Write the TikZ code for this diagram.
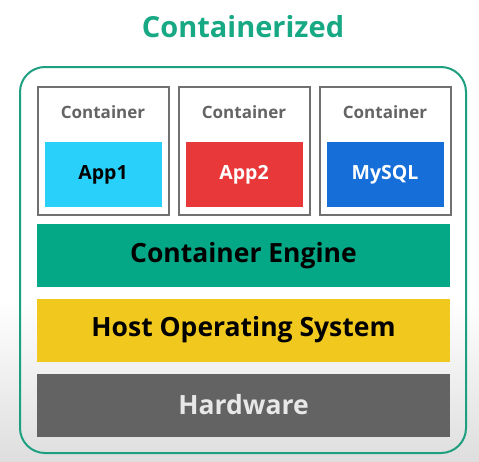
\documentclass[tikz,border=0pt]{standalone}
\usepackage{fontspec}
\setmainfont{Open Sans}
\usepackage{tikz}
\usetikzlibrary{positioning}

\definecolor{titlegreen}{RGB}{23,168,132}
\definecolor{framegreen}{RGB}{30,160,128}
\definecolor{enginegreen}{RGB}{4,168,134}
\definecolor{hostyellow}{RGB}{240,200,30}
\definecolor{hwgray}{RGB}{99,99,99}
\definecolor{hwtext}{RGB}{232,232,232}
\definecolor{boxgray}{RGB}{112,112,112}
\definecolor{labelgray}{RGB}{100,100,100}
\definecolor{appcyan}{RGB}{40,208,250}
\definecolor{appred}{RGB}{232,56,58}
\definecolor{appblue}{RGB}{22,110,216}
\definecolor{bggray}{RGB}{222,222,222}

\tikzset{
    cbox/.style={draw=boxgray, line width=2pt, rectangle, minimum width=131pt, minimum height=128pt},
    clabel/.style={text=labelgray, font=\fontsize{17}{19}\selectfont\bfseries},
    appbox/.style={rectangle, minimum width=117pt, minimum height=65pt, font=\fontsize{19.5}{22}\selectfont\bfseries},
    layer/.style={rectangle, minimum width=413pt, minimum height=63pt, font=\fontsize{26.5}{30}\selectfont\bfseries}
}

\begin{document}
\begin{tikzpicture}[x=1pt, y=-1pt]

    % background
    \useasboundingbox (0,0) rectangle (479,461);
    \fill[white] (0,0) rectangle (479,300);
    \shade[top color=white, bottom color=bggray] (0,300) rectangle (479,461);

    % title and frame
    \node (title) [text=titlegreen, font=\fontsize{29}{32}\selectfont\bfseries] at (243,27) {Containerized};
    \draw[framegreen, line width=2pt, rounded corners=25pt] (20,67) rectangle (466,453);

    % containers
    \node (cont1) [cbox] at (103,151) {};
    \node (cont2) [cbox] at (244,151) {};
    \node (cont3) [cbox] at (385,151) {};
    \node (lab1) [clabel] at (103,112) {Container};
    \node (lab2) [clabel] at (244,112) {Container};
    \node (lab3) [clabel] at (385,112) {Container};

    % apps inside the containers
    \node (app1) [appbox, fill=appcyan, text=black] at (103,174.5) {App1};
    \node (app2) [appbox, fill=appred, text=white] at (244,174.5) {App2};
    \node (mysql) [appbox, fill=appblue, text=white] at (385,174.5) {MySQL};

    % layers
    \node (engine) [layer, fill=enginegreen, text=black] at (243.5,255.5) {Container Engine};
    \node (host) [layer, fill=hostyellow, text=black] at (243.5,330) {Host Operating System};
    \node (hardware) [layer, fill=hwgray, text=hwtext] at (243.5,405) {Hardware};

\end{tikzpicture}
\end{document}
